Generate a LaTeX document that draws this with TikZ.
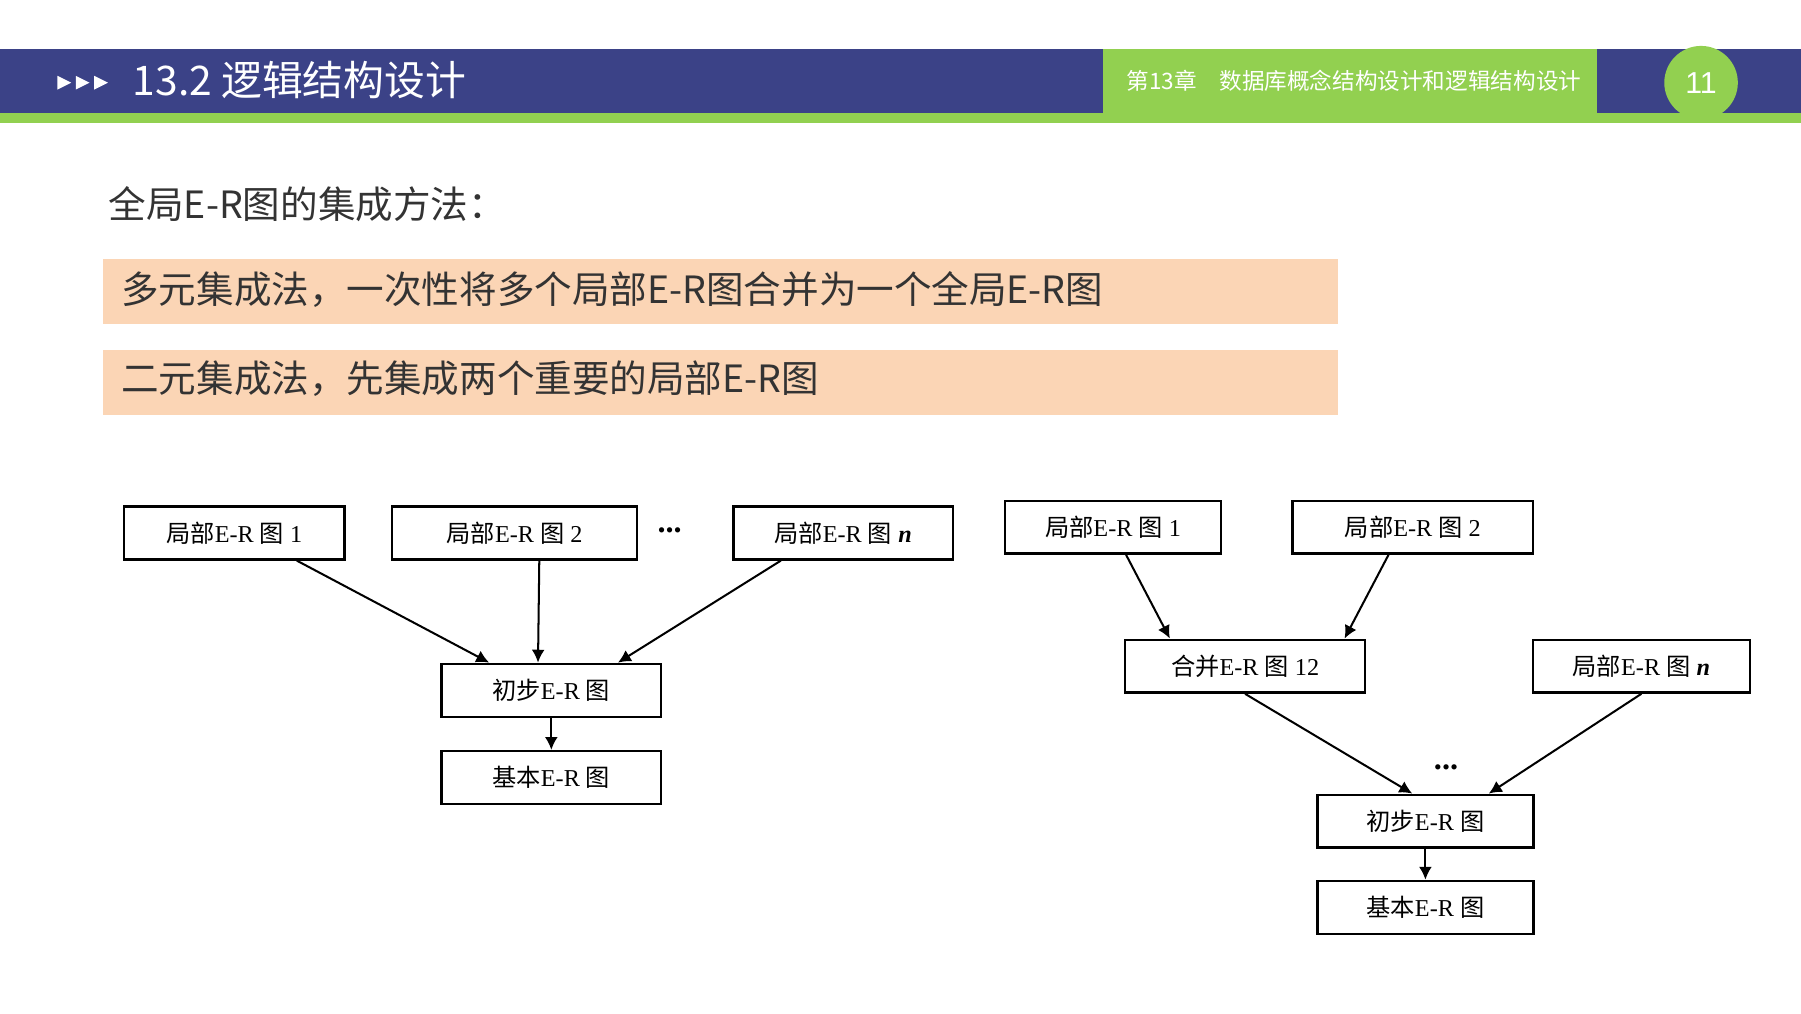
\documentclass[tikz,border=0pt]{standalone}
\usepackage{fontspec}
\setmainfont{Liberation Serif}
\setsansfont{Liberation Sans}
\newfontfamily\cjk{Noto Sans CJK SC}
\usetikzlibrary{calc, positioning, arrows.meta}
\definecolor{barblue}{HTML}{3B4287}
\definecolor{bargreen}{HTML}{92D050}
\definecolor{boxorange}{HTML}{FBD5B5}
\tikzset{
    erbox/.style={rectangle, draw=black, line width=0.6pt, fill=white, minimum height=0.46cm, inner sep=0pt, font=\fontsize{6pt}{7pt}\selectfont},
    arrow/.style={-{Latex[length=3.2pt, width=3.2pt]}, line width=0.5pt},
    band/.style={rectangle, fill=boxorange, minimum width=10.75cm, minimum height=0.57cm, anchor=west, inner sep=0pt},
    bandtext/.style={anchor=west, font=\cjk\fontsize{9.3pt}{11pt}\selectfont}
}
\newcommand{\er}[2]{{\cjk #1}E-R {\cjk 图}#2}
\begin{document}
\begin{tikzpicture}[x=0.01cm, y=-0.01cm]
    \useasboundingbox (0,0) rectangle (1568,882);
    % header
    \fill[barblue] (0,43) rectangle (1568,98);
    \fill[bargreen] (0,98) rectangle (1568,107);
    \fill[bargreen] (960,43) rectangle (1390,98);
    \node[circle, fill=bargreen, minimum size=0.64cm, inner sep=0pt, text=white, font=\sffamily\fontsize{7.5pt}{9pt}\selectfont] (page) at (1481,72) {11};
    \foreach \x in {50,66,82}
        \fill[white] (\x,66) -- (\x+12,72) -- (\x,78) -- cycle;
    \node[anchor=west, text=white, inner sep=0pt, font=\cjk\fontsize{10.1pt}{12pt}\selectfont] (title) at (115,70) {13.2 逻辑结构设计};
    \node[anchor=west, text=white, inner sep=0pt, font=\cjk\fontsize{5.6pt}{6pt}\selectfont] (chap) at (980,70) {第13章\quad 数据库概念结构设计和逻辑结构设计};
    % text
    \node[anchor=west, inner sep=0pt, text=black!80, font=\cjk\fontsize{9.3pt}{11pt}\selectfont] (head) at (94,178) {全局E-R图的集成方法：};
    \node[band] (band1) at (89,254) {};
    \node[bandtext, inner sep=0pt, text=black!80] (t1) at (105,252) {多元集成法，一次性将多个局部E-R图合并为一个全局E-R图};
    \node[band] (band2) at (89,333) {};
    \node[bandtext, inner sep=0pt, text=black!80] (t2) at (105,330) {二元集成法，先集成两个重要的局部E-R图};

    % left diagram
    \node[erbox, minimum width=1.92cm] (A1) at (204,464) {\er{局部}{ 1}};
    \node[erbox, minimum width=2.13cm] (A2) at (448,464) {\er{局部}{ 2}};
    \node[erbox, minimum width=1.91cm] (An) at (734,464) {\er{局部}{ \textbf{\textit{n}}}};
    \node[font=\bfseries\fontsize{8pt}{9pt}\selectfont] (dotsA) at (583,462) {...};
    \node[erbox, minimum width=1.91cm] (B) at (480,601) {\er{初步}{}};
    \node[erbox, minimum width=1.91cm] (C) at (480,677) {\er{基本}{}};
    \draw[arrow] ($(A1.south west)!0.78!(A1.south east)$) -- ($(B.north west)!0.22!(B.north east)$);
    \draw[arrow] ($(A2.south west)!0.6!(A2.south east)$) -- ($(B.north west)!0.44!(B.north east)$);
    \draw[arrow] ($(An.south west)!0.22!(An.south east)$) -- ($(B.north west)!0.8!(B.north east)$);
    \draw[arrow] (B) -- (C);

    % right diagram
    \node[erbox, minimum width=1.88cm] (R1) at (969,459) {\er{局部}{ 1}};
    \node[erbox, minimum width=2.09cm] (R2) at (1230,459) {\er{局部}{ 2}};
    \node[erbox, minimum width=2.09cm] (M) at (1084,580) {\er{合并}{ 12}};
    \node[erbox, minimum width=1.89cm] (Rn) at (1429,580) {\er{局部}{ \textbf{\textit{n}}}};
    \node[font=\bfseries\fontsize{8pt}{9pt}\selectfont] (dotsB) at (1259,668) {...};
    \node[erbox, minimum width=1.88cm] (F) at (1241,715) {\er{初步}{}};
    \node[erbox, minimum width=1.88cm] (G) at (1241,790) {\er{基本}{}};
    \draw[arrow] ($(R1.south west)!0.56!(R1.south east)$) -- ($(M.north west)!0.19!(M.north east)$);
    \draw[arrow] ($(R2.south west)!0.40!(R2.south east)$) -- ($(M.north west)!0.91!(M.north east)$);
    \draw[arrow] (M.south) -- ($(F.north west)!0.44!(F.north east)$);
    \draw[arrow] (Rn.south) -- ($(F.north west)!0.79!(F.north east)$);
    \draw[arrow] (F) -- (G);
\end{tikzpicture}
\end{document}
